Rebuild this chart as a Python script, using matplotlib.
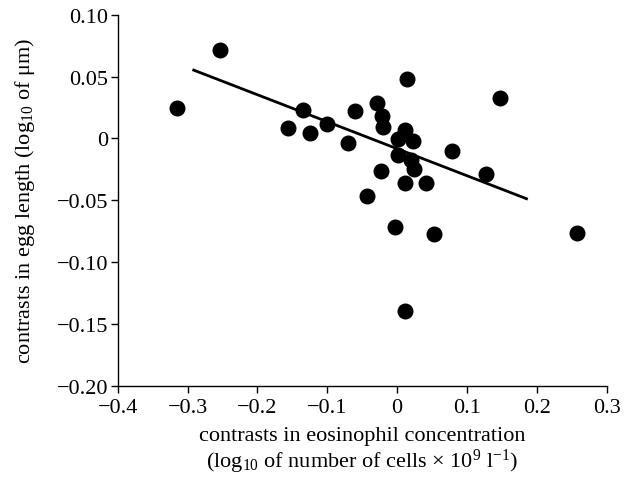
import matplotlib
matplotlib.use("Agg")
import matplotlib.pyplot as plt

plt.rcParams['font.family'] = ['Liberation Serif', 'DejaVu Serif']
plt.rcParams['mathtext.fontset'] = 'custom'
plt.rcParams['mathtext.rm'] = 'Liberation Serif'
plt.rcParams['mathtext.it'] = 'Liberation Serif:italic'
plt.rcParams['axes.unicode_minus'] = True

eosinophil = [-0.3145, -0.2529, -0.1566, -0.1348, -0.1241, -0.1001, -0.0697, -0.0601,
              -0.0282, -0.0210, -0.0200, 0.0140, 0.1469, 0.0119, 0.0014, 0.0229,
              0.0782, 0.0014, 0.0205, 0.0238, -0.0235, 0.1271, 0.0109, 0.0419,
              -0.0429, -0.0029, 0.0534, 0.2577, 0.0119]
egg_length = [0.0247, 0.0715, 0.0084, 0.0227, 0.0040, 0.0113, -0.0035, 0.0218,
              0.0288, 0.0178, 0.0092, 0.0480, 0.0326, 0.0065, -0.0002, -0.0024,
              -0.0099, -0.0131, -0.0177, -0.0244, -0.0263, -0.0288, -0.0360, -0.0360,
              -0.0468, -0.0720, -0.0771, -0.0769, -0.1400]
fit_x = [-0.293, 0.187]
fit_y = [0.0556, -0.0492]

xticks = [-0.4, -0.3, -0.2, -0.1, 0, 0.1, 0.2, 0.3]
xticklabels = ['\u22120.4', '\u22120.3', '\u22120.2', '\u22120.1', '0', '0.1', '0.2', '0.3']
yticks = [0.10, 0.05, 0, -0.05, -0.10, -0.15, -0.20]
yticklabels = ['0.10', '0.05', '0', '\u22120.05', '\u22120.10', '\u22120.15', '\u22120.20']

FS = 16

fig = plt.figure(figsize=(6.24, 4.85), dpi=100)
ax = fig.add_axes([0.1886, 0.2027, 0.7837, 0.7649])

ax.plot(fit_x, fit_y, color='black', lw=2.0, solid_capstyle='butt', zorder=2)
ax.plot(eosinophil, egg_length, 'o', color='black', markersize=10.5, zorder=3)

ax.set_xlim(-0.4, 0.3)
ax.set_ylim(-0.20, 0.10)
ax.set_xticks(xticks)
ax.set_xticklabels(xticklabels)
ax.set_yticks(yticks)
ax.set_yticklabels(yticklabels)
ax.tick_params(direction='out', length=5, width=1, labelsize=FS, colors='black', pad=2)
ax.tick_params(axis='x', pad=4)
for s in ['top', 'right']:
    ax.spines[s].set_visible(False)
for s in ['left', 'bottom']:
    ax.spines[s].set_linewidth(1)

ax.set_xlabel('contrasts in eosinophil concentration\n'
              '(log$_{10}$ of number of cells \u00d7 10$^{9}$ l$^{-1}$)',
              fontsize=FS, labelpad=6, linespacing=1.1)
ax.set_ylabel('contrasts in egg length (log$_{10}$ of \u03bcm)', fontsize=FS, labelpad=14)

fig.savefig('out.png', dpi=100)
